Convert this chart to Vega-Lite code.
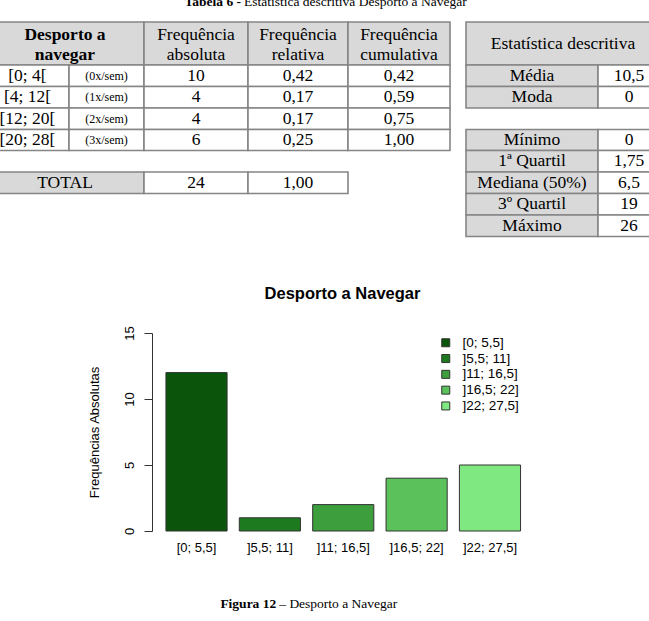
{
  "$schema": "https://vega.github.io/schema/vega-lite/v6.json",
  "padding": 0,
  "spacing": 36,
  "background": "white",
  "config": {"view": {"stroke": null}},
  "resolve": {"scale": {"fill": "independent"}, "legend": {"fill": "independent"}},
  "datasets": {
    "cells": [
      {"c0": 0, "c1": 2, "r0": 0, "r1": 1, "t": "Desporto a\nnavegar", "role": "varname"},
      {"c0": 2, "c1": 3, "r0": 0, "r1": 1, "t": "Frequência\nabsoluta", "role": "head"},
      {"c0": 3, "c1": 4, "r0": 0, "r1": 1, "t": "Frequência\nrelativa", "role": "head"},
      {"c0": 4, "c1": 5, "r0": 0, "r1": 1, "t": "Frequência\ncumulativa", "role": "head"},
      {"c0": 0, "c1": 1, "r0": 1, "r1": 2, "t": "[0; 4[", "role": "class"},
      {"c0": 1, "c1": 2, "r0": 1, "r1": 2, "t": "(0x/sem)", "role": "note"},
      {"c0": 2, "c1": 3, "r0": 1, "r1": 2, "t": "10", "role": "value"},
      {"c0": 3, "c1": 4, "r0": 1, "r1": 2, "t": "0,42", "role": "value"},
      {"c0": 4, "c1": 5, "r0": 1, "r1": 2, "t": "0,42", "role": "value"},
      {"c0": 0, "c1": 1, "r0": 2, "r1": 3, "t": "[4; 12[", "role": "class"},
      {"c0": 1, "c1": 2, "r0": 2, "r1": 3, "t": "(1x/sem)", "role": "note"},
      {"c0": 2, "c1": 3, "r0": 2, "r1": 3, "t": "4", "role": "value"},
      {"c0": 3, "c1": 4, "r0": 2, "r1": 3, "t": "0,17", "role": "value"},
      {"c0": 4, "c1": 5, "r0": 2, "r1": 3, "t": "0,59", "role": "value"},
      {"c0": 0, "c1": 1, "r0": 3, "r1": 4, "t": "[12; 20[", "role": "class"},
      {"c0": 1, "c1": 2, "r0": 3, "r1": 4, "t": "(2x/sem)", "role": "note"},
      {"c0": 2, "c1": 3, "r0": 3, "r1": 4, "t": "4", "role": "value"},
      {"c0": 3, "c1": 4, "r0": 3, "r1": 4, "t": "0,17", "role": "value"},
      {"c0": 4, "c1": 5, "r0": 3, "r1": 4, "t": "0,75", "role": "value"},
      {"c0": 0, "c1": 1, "r0": 4, "r1": 5, "t": "[20; 28[", "role": "class"},
      {"c0": 1, "c1": 2, "r0": 4, "r1": 5, "t": "(3x/sem)", "role": "note"},
      {"c0": 2, "c1": 3, "r0": 4, "r1": 5, "t": "6", "role": "value"},
      {"c0": 3, "c1": 4, "r0": 4, "r1": 5, "t": "0,25", "role": "value"},
      {"c0": 4, "c1": 5, "r0": 4, "r1": 5, "t": "1,00", "role": "value"},
      {"c0": 0, "c1": 2, "r0": 6, "r1": 7, "t": "TOTAL", "role": "label"},
      {"c0": 2, "c1": 3, "r0": 6, "r1": 7, "t": "24", "role": "value"},
      {"c0": 3, "c1": 4, "r0": 6, "r1": 7, "t": "1,00", "role": "value"},
      {"c0": 6, "c1": 8, "r0": 0, "r1": 1, "t": "Estatística descritiva", "role": "head"},
      {"c0": 6, "c1": 7, "r0": 1, "r1": 2, "t": "Média", "role": "label"},
      {"c0": 7, "c1": 8, "r0": 1, "r1": 2, "t": "10,5", "role": "value"},
      {"c0": 6, "c1": 7, "r0": 2, "r1": 3, "t": "Moda", "role": "label"},
      {"c0": 7, "c1": 8, "r0": 2, "r1": 3, "t": "0", "role": "value"},
      {"c0": 6, "c1": 7, "r0": 4, "r1": 5, "t": "Mínimo", "role": "label"},
      {"c0": 7, "c1": 8, "r0": 4, "r1": 5, "t": "0", "role": "value"},
      {"c0": 6, "c1": 7, "r0": 5, "r1": 6, "t": "1ª Quartil", "role": "label"},
      {"c0": 7, "c1": 8, "r0": 5, "r1": 6, "t": "1,75", "role": "value"},
      {"c0": 6, "c1": 7, "r0": 6, "r1": 7, "t": "Mediana (50%)", "role": "label"},
      {"c0": 7, "c1": 8, "r0": 6, "r1": 7, "t": "6,5", "role": "value"},
      {"c0": 6, "c1": 7, "r0": 7, "r1": 8, "t": "3º Quartil", "role": "label"},
      {"c0": 7, "c1": 8, "r0": 7, "r1": 8, "t": "19", "role": "value"},
      {"c0": 6, "c1": 7, "r0": 8, "r1": 9, "t": "Máximo", "role": "label"},
      {"c0": 7, "c1": 8, "r0": 8, "r1": 9, "t": "26", "role": "value"}
    ],
    "freq": [
      {"classe": "[0; 5,5]", "freq": 12},
      {"classe": "]5,5; 11]", "freq": 1},
      {"classe": "]11; 16,5]", "freq": 2},
      {"classe": "]16,5; 22]", "freq": 4},
      {"classe": "]22; 27,5]", "freq": 5}
    ]
  },
  "vconcat": [
    {
      "width": 649,
      "height": 250,
      "resolve": {"scale": {"x": "independent"}},
      "layer": [
        {
          "data": {"name": "cells"},
          "mark": {"type": "rect", "stroke": "#858585", "strokeWidth": 1.6, "clip": true},
          "encoding": {
            "x": {"field": "c0", "type": "quantitative", "axis": null,
                  "scale": {"domain": [0, 1, 2, 3, 4, 5, 6, 7, 8], "range": [-14, 69, 144, 248, 348, 450, 466, 598, 660], "nice": false, "zero": false}},
            "x2": {"field": "c1"},
            "y": {"field": "r0", "type": "quantitative", "axis": null,
                  "scale": {"domain": [-1, 0, 1, 2, 3, 4, 5, 6, 7, 8, 9], "range": [6, 22, 65, 86.5, 108, 129.5, 150.5, 172, 193.5, 215, 236.5], "nice": false, "zero": false}},
            "y2": {"field": "r1"},
            "fill": {"field": "role", "type": "nominal", "legend": null,
                     "scale": {"domain": ["varname", "head", "label", "class", "note", "value"], "range": ["#d9d9d9", "#d9d9d9", "#d9d9d9", "#ffffff", "#ffffff", "#ffffff"]}}
          }
        },
        {
          "data": {"name": "cells"},
          "transform": [
            {"filter": "datum.role == 'varname'"},
            {"calculate": "(datum.c0 + datum.c1) / 2", "as": "cx"},
            {"calculate": "(datum.r0 + datum.r1) / 2", "as": "cy"}
          ],
          "mark": {"type": "text", "font": "Liberation Serif", "fontSize": 17.5, "fontWeight": "bold", "lineBreak": "\n", "lineHeight": 20, "dy": -9, "color": "#000", "clip": true},
          "encoding": {
            "x": {"field": "cx", "type": "quantitative", "axis": null,
                  "scale": {"domain": [0.5, 1, 1.5, 2.5, 3, 3.5, 4.5, 6.5, 7, 7.5], "range": [27.5, 65, 106.5, 196, 248, 298, 399, 532, 563, 629], "nice": false, "zero": false}},
            "y": {"field": "cy", "type": "quantitative"},
            "text": {"field": "t"}
          }
        },
        {
          "data": {"name": "cells"},
          "transform": [
            {"filter": "datum.role == 'head' && indexof(datum.t, '\\n') >= 0"},
            {"calculate": "(datum.c0 + datum.c1) / 2", "as": "cx"},
            {"calculate": "(datum.r0 + datum.r1) / 2", "as": "cy"}
          ],
          "mark": {"type": "text", "font": "Liberation Serif", "fontSize": 17.5, "lineBreak": "\n", "lineHeight": 20, "dy": -9, "color": "#000", "clip": true},
          "encoding": {
            "x": {"field": "cx", "type": "quantitative", "axis": null,
                  "scale": {"domain": [0.5, 1, 1.5, 2.5, 3, 3.5, 4.5, 6.5, 7, 7.5], "range": [27.5, 65, 106.5, 196, 248, 298, 399, 532, 563, 629], "nice": false, "zero": false}},
            "y": {"field": "cy", "type": "quantitative"},
            "text": {"field": "t"}
          }
        },
        {
          "data": {"name": "cells"},
          "transform": [
            {"filter": "datum.role != 'varname' && datum.role != 'note' && indexof(datum.t, '\\n') < 0"},
            {"calculate": "(datum.c0 + datum.c1) / 2", "as": "cx"},
            {"calculate": "(datum.r0 + datum.r1) / 2", "as": "cy"}
          ],
          "mark": {"type": "text", "font": "Liberation Serif", "fontSize": 17.5, "color": "#000", "clip": true},
          "encoding": {
            "x": {"field": "cx", "type": "quantitative", "axis": null,
                  "scale": {"domain": [0.5, 1, 1.5, 2.5, 3, 3.5, 4.5, 6.5, 7, 7.5], "range": [27.5, 65, 106.5, 196, 248, 298, 399, 532, 563, 629], "nice": false, "zero": false}},
            "y": {"field": "cy", "type": "quantitative"},
            "text": {"field": "t"}
          }
        },
        {
          "data": {"name": "cells"},
          "transform": [
            {"filter": "datum.role == 'note'"},
            {"calculate": "(datum.c0 + datum.c1) / 2", "as": "cx"},
            {"calculate": "(datum.r0 + datum.r1) / 2", "as": "cy"}
          ],
          "mark": {"type": "text", "font": "Liberation Serif", "fontSize": 12, "color": "#000", "clip": true},
          "encoding": {
            "x": {"field": "cx", "type": "quantitative", "axis": null,
                  "scale": {"domain": [0.5, 1, 1.5, 2.5, 3, 3.5, 4.5, 6.5, 7, 7.5], "range": [27.5, 65, 106.5, 196, 248, 298, 399, 532, 563, 629], "nice": false, "zero": false}},
            "y": {"field": "cy", "type": "quantitative"},
            "text": {"field": "t"}
          }
        },
        {
          "data": {"values": [{"t": "Tabela 6 -"}]},
          "mark": {"type": "text", "font": "Liberation Serif", "fontSize": 13.5, "fontWeight": "bold", "align": "right", "baseline": "alphabetic", "dx": -7, "color": "#000", "clip": true},
          "encoding": {
            "x": {"datum": 3, "type": "quantitative", "axis": null,
                  "scale": {"domain": [0.5, 1, 1.5, 2.5, 3, 3.5, 4.5, 6.5, 7, 7.5], "range": [27.5, 65, 106.5, 196, 248, 298, 399, 532, 563, 629], "nice": false, "zero": false}},
            "y": {"datum": -1, "type": "quantitative"},
            "text": {"field": "t"}
          }
        },
        {
          "data": {"values": [{"t": "Estatística descritiva Desporto a Navegar"}]},
          "mark": {"type": "text", "font": "Liberation Serif", "fontSize": 13.5, "align": "left", "baseline": "alphabetic", "dx": -4, "color": "#000", "clip": true},
          "encoding": {
            "x": {"datum": 3, "type": "quantitative", "axis": null,
                  "scale": {"domain": [0.5, 1, 1.5, 2.5, 3, 3.5, 4.5, 6.5, 7, 7.5], "range": [27.5, 65, 106.5, 196, 248, 298, 399, 532, 563, 629], "nice": false, "zero": false}},
            "y": {"datum": -1, "type": "quantitative"},
            "text": {"field": "t"}
          }
        }
      ]
    },
    {
      "width": 649,
      "height": 198,
      "title": {"text": "Desporto a Navegar", "font": "Liberation Sans", "fontSize": 16.5, "fontWeight": "bold", "color": "#000", "anchor": "middle", "dx": 18, "offset": 23},
      "layer": [
        {
          "data": {"name": "freq"},
          "mark": {"type": "bar", "stroke": "#333333", "strokeWidth": 1},
          "encoding": {
            "x": {"field": "classe", "type": "nominal", "sort": null,
                  "scale": {"range": [152, 534.5], "paddingInner": 0.1667, "paddingOuter": 0.19, "round": false},
                  "axis": {"title": null, "domain": false, "ticks": false, "tickSize": 0, "labelAngle": 0, "labelFont": "Liberation Sans", "labelFontSize": 13, "labelColor": "#000", "labelPadding": 10}},
            "y": {"field": "freq", "type": "quantitative",
                  "scale": {"domain": [0, 15], "nice": false},
                  "axis": {"title": "Frequências Absolutas", "values": [0, 5, 10, 15], "offset": -152, "grid": false, "labelAngle": -90, "tickSize": 8, "domainColor": "#333333", "tickColor": "#333333", "labelFont": "Liberation Sans", "labelFontSize": 13, "labelColor": "#000", "labelPadding": 8, "titleFont": "Liberation Sans", "titleFontSize": 13, "titleFontWeight": "normal", "titleColor": "#000", "titlePadding": 22}},
            "fill": {"field": "classe", "type": "nominal", "sort": null,
                     "scale": {"domain": ["[0; 5,5]", "]5,5; 11]", "]11; 16,5]", "]16,5; 22]", "]22; 27,5]"], "range": ["#0b540b", "#1e7a1e", "#3d9e3d", "#5bc25b", "#80e880"]},
                     "legend": {"title": null, "orient": "none", "legendX": 439, "legendY": 3, "padding": 0, "symbolType": "square", "symbolSize": 64, "symbolStrokeColor": "#333333", "symbolStrokeWidth": 1, "labelFont": "Liberation Sans", "labelFontSize": 13.5, "labelColor": "#000", "labelOffset": 10, "rowPadding": 0.8}}
          }
        },
        {
          "data": {"values": [{"t": "Figura 12"}]},
          "mark": {"type": "text", "font": "Liberation Serif", "fontSize": 13.5, "fontWeight": "bold", "align": "right", "baseline": "middle", "dx": -67, "color": "#000"},
          "encoding": {
            "x": {"datum": "]11; 16,5]"},
            "y": {"datum": -5.5},
            "text": {"field": "t"}
          }
        },
        {
          "data": {"values": [{"t": "– Desporto a Navegar"}]},
          "mark": {"type": "text", "font": "Liberation Serif", "fontSize": 13.5, "align": "left", "baseline": "middle", "dx": -64, "color": "#000"},
          "encoding": {
            "x": {"datum": "]11; 16,5]"},
            "y": {"datum": -5.5},
            "text": {"field": "t"}
          }
        }
      ]
    }
  ]
}
